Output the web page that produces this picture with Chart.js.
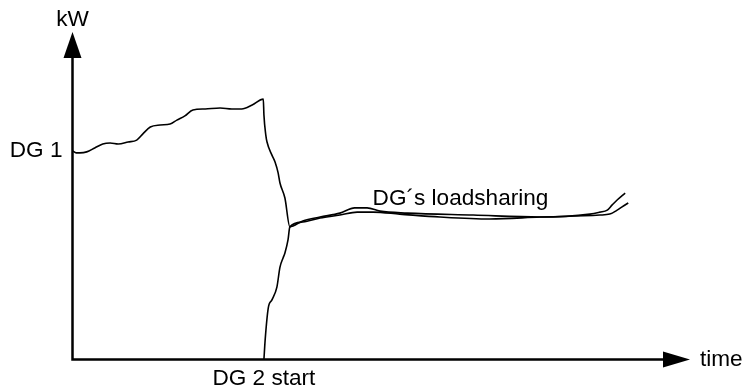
<!DOCTYPE html>
<html>
<head>
<meta charset="utf-8">
<script src="https://cdn.jsdelivr.net/npm/chart.js@4"></script>
<style>
    body { margin: 0; background: #fff; }
    canvas { display: block; }
</style>
</head>
<body>
<canvas id="loadChart" width="745" height="392"></canvas>
<script>
// time axis (0..100) and kW axis (0..100)
const dg1Time = [0, 0.6, 1.2, 2.3, 3.6, 4.9, 6.1, 7.4, 9.0, 10.4, 11.4, 12.6, 14.2, 15.8, 16.9, 18.2, 19.5, 21.5, 23.9, 25.8, 27.4, 29.1, 30.9,
    31.0, 31.3, 31.5, 32.3, 32.8, 33.3, 33.6, 34.4, 35.2, 37.3, 40.1, 43.3, 45.7, 47.7, 49.8, 54.2, 64.9, 75.7, 83.8, 85.4, 86.6, 87.4, 88.2, 89.5];
const dg1Load = [63.7, 63.1, 63.1, 63.4, 64.6, 65.8, 66.1, 65.8, 66.4, 67.0, 68.9, 71.0, 71.6, 71.9, 73.1, 74.4, 76.2, 76.5, 76.8, 76.5, 76.5, 77.7, 79.5,
    74.7, 68.6, 66.4, 62.4, 60.3, 57.0, 53.9, 49.3, 40.5, 42.3, 43.5, 44.7, 46.3, 46.3, 45.3, 44.7, 44.1, 43.5, 44.4, 45.0, 45.6, 47.2, 48.7, 50.8];

const dg2Time = [31.0, 31.2, 31.7, 32.3, 33.1, 33.6, 34.1, 34.4, 34.9, 35.2, 37.3, 40.1, 43.3, 46.1, 48.7, 53.0, 59.5, 67.6, 75.7, 85.4, 87.0, 88.2, 89.0, 90.0];
const dg2Load = [0, 6.0, 15.7, 18.2, 22.1, 28.2, 31.0, 32.5, 36.5, 40.5, 42.0, 43.2, 44.1, 45.0, 45.0, 44.4, 43.5, 42.9, 43.5, 44.1, 44.4, 45.6, 46.6, 47.8];

const axisLabels = { y: 'kW', x: 'time' };
const dg1Label = 'DG 1';
const dg2Label = 'DG 2 start';
const shareLabel = 'DG´s loadsharing';
const shareLabelPos = { x: 48.6, y: 47.2 };

const font = '22.6px "Liberation Sans", Arial, sans-serif';

function toPoints(xs, ys) {
    return xs.map((x, i) => ({ x: x, y: ys[i] }));
}

// axes with arrow heads and the hand written labels
const sketchAxes = {
    id: 'sketchAxes',
    afterDatasetsDraw(chart) {
        const ctx = chart.ctx;
        const area = chart.chartArea;
        const xs = chart.scales.x;
        const ys = chart.scales.y;
        const ox = xs.getPixelForValue(0);
        const oy = ys.getPixelForValue(0);
        ctx.save();
        ctx.strokeStyle = '#000';
        ctx.fillStyle = '#000';
        ctx.lineWidth = 2.5;
        ctx.lineCap = 'butt';
        ctx.beginPath();
        ctx.moveTo(ox, oy + 1.25);
        ctx.lineTo(ox, area.top + 24);
        ctx.moveTo(ox - 1.25, oy);
        ctx.lineTo(area.right - 25, oy);
        ctx.stroke();

        ctx.beginPath();
        ctx.moveTo(ox, area.top);
        ctx.lineTo(ox - 9, area.top + 26);
        ctx.lineTo(ox + 9, area.top + 26);
        ctx.closePath();
        ctx.fill();

        ctx.beginPath();
        ctx.moveTo(area.right, oy);
        ctx.lineTo(area.right - 27, oy - 8);
        ctx.lineTo(area.right - 27, oy + 8);
        ctx.closePath();
        ctx.fill();

        ctx.font = font;
        ctx.textBaseline = 'alphabetic';
        ctx.textAlign = 'center';
        ctx.fillText(axisLabels.y, ox, area.top - 6);

        ctx.textAlign = 'left';
        ctx.textBaseline = 'middle';
        ctx.fillText(axisLabels.x, area.right + 10, oy);

        ctx.textAlign = 'right';
        ctx.fillText(dg1Label, ox - 10, ys.getPixelForValue(dg1Load[0]));

        ctx.textAlign = 'center';
        ctx.textBaseline = 'top';
        ctx.fillText(dg2Label, xs.getPixelForValue(dg2Time[0]), oy + 8);

        ctx.textAlign = 'left';
        ctx.textBaseline = 'alphabetic';
        ctx.fillText(shareLabel, xs.getPixelForValue(shareLabelPos.x), ys.getPixelForValue(shareLabelPos.y));
        ctx.restore();
    }
};

const ctx = document.getElementById('loadChart');
new Chart(ctx, {
    type: 'scatter',
    data: {
        datasets: [
            { label: dg1Label, data: toPoints(dg1Time, dg1Load) },
            { label: dg2Label, data: toPoints(dg2Time, dg2Load) }
        ]
    },
    options: {
        responsive: false,
        animation: false,
        showLine: true,
        layout: { padding: { left: 72.5, right: 55, top: 32, bottom: 32.5 } },
        elements: {
            point: { radius: 0, hoverRadius: 0 },
            line: { borderColor: '#000', borderWidth: 1.6, cubicInterpolationMode: 'monotone', fill: false }
        },
        scales: {
            x: { type: 'linear', min: 0, max: 100, display: false },
            y: { type: 'linear', min: 0, max: 100, display: false }
        },
        plugins: {
            legend: { display: false },
            tooltip: { enabled: false }
        }
    },
    plugins: [sketchAxes]
});
</script>
</body>
</html>
